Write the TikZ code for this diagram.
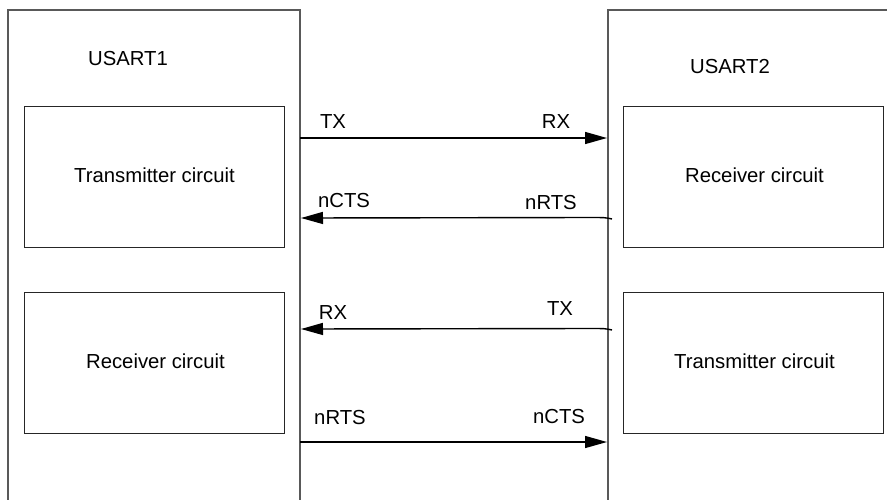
\documentclass[tikz,border=0pt]{standalone}
\usepackage{fontspec}
\setmainfont{Liberation Sans}
\usetikzlibrary{arrows.meta}
\begin{document}
\begin{tikzpicture}[x=1pt,y=-1pt,
  outer/.style={draw=black!65,line width=1.2pt},
  inner/.style={draw=black!85,line width=1pt},
  lbl/.style={font=\fontsize{20.3}{24}\selectfont,inner sep=0pt,anchor=center},
  sig/.style={draw=black,line width=1.4pt,-{Triangle[length=22pt,width=12pt]}}]
\useasboundingbox (0,0) rectangle (887,499);
\clip (0,0) rectangle (887,499);
% outer boxes (open at bottom)
\draw[outer] (8,505) -- (8,10) -- (300,10) -- (300,505);
\draw[outer] (608,505) -- (608,10) -- (895,10);
\node[lbl] (u1) at (128,59) {USART1};
\node[lbl] (u2) at (730,67) {USART2};
% inner boxes
\draw[inner] (24,106) rectangle (284,247);
\draw[inner] (24,292) rectangle (284,433);
\draw[inner] (623,106) rectangle (883,247);
\draw[inner] (623,292) rectangle (883,433);
\node[lbl] (lt) at (154.5,175) {Transmitter circuit};
\node[lbl] (lr) at (155.5,361) {Receiver circuit};
\node[lbl] (rr) at (754.5,175) {Receiver circuit};
\node[lbl] (rt) at (754.5,361) {Transmitter circuit};
% connector end points
\coordinate (a1) at (300,138); \coordinate (b1) at (607,138);
\coordinate (a2) at (612,219); \coordinate (b2) at (301,218);
\coordinate (a3) at (612,330); \coordinate (b3) at (301,329);
\coordinate (a4) at (300,442); \coordinate (b4) at (607,442);
\draw[sig] (a1) -- (b1);
\draw[sig] (a2) .. controls (605,217.5) .. (590,217.5) -- (b2);
\draw[sig] (a3) .. controls (605,328.5) .. (590,328.5) -- (b3);
\draw[sig] (a4) -- (b4);
% labels
\node[lbl] (l1) at (333,122) {TX};
\node[lbl] (l2) at (556,122) {RX};
\node[lbl] (l3) at (344,201) {nCTS};
\node[lbl] (l4) at (551,203) {nRTS};
\node[lbl] (l5) at (333,313) {RX};
\node[lbl] (l6) at (560,309) {TX};
\node[lbl] (l7) at (340,418) {nRTS};
\node[lbl] (l8) at (559,417) {nCTS};
\end{tikzpicture}
\end{document}
